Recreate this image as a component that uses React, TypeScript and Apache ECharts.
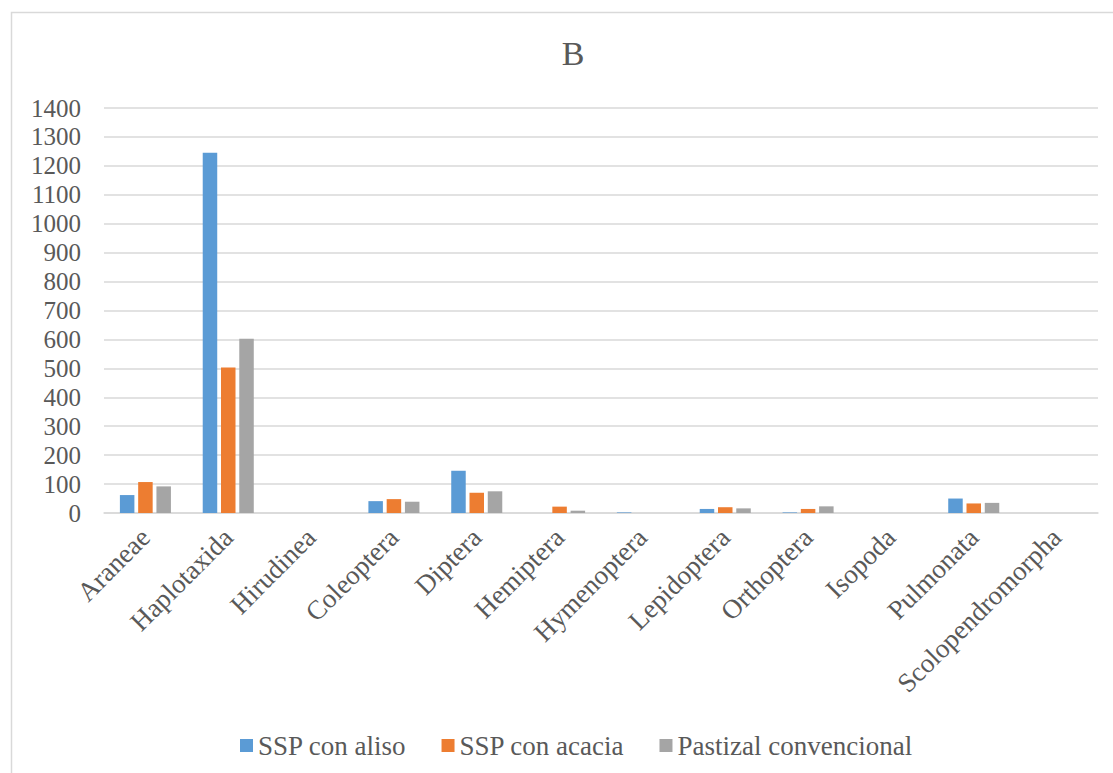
import React, { useEffect, useRef } from "react";
import * as echarts from "echarts";

const categories = [
  "Araneae",
  "Haplotaxida",
  "Hirudinea",
  "Coleoptera",
  "Diptera",
  "Hemiptera",
  "Hymenoptera",
  "Lepidoptera",
  "Orthoptera",
  "Isopoda",
  "Pulmonata",
  "Scolopendromorpha",
];

const seriesNames = ["SSP con aliso", "SSP con acacia", "Pastizal convencional"];
const sspAliso = [62, 1245, 0, 41, 146, 0, 2, 14, 2, 0, 50, 0];
const sspAcacia = [107, 503, 0, 48, 70, 22, 0, 20, 14, 0, 33, 0];
const pastizal = [92, 602, 0, 39, 75, 8, 0, 16, 23, 0, 35, 0];
const seriesColors = ["#5b9bd5", "#ed7d31", "#a5a5a5"];

const FONT = "Liberation Serif, serif";
const TEXT = "#595959";

export default function App() {
  const ref = useRef<HTMLDivElement>(null);

  useEffect(() => {
    if (!ref.current) return;
    const chart = echarts.init(ref.current, null, { renderer: "svg" });
    const values = [sspAliso, sspAcacia, pastizal];
    chart.setOption({
      animation: false,
      backgroundColor: "#ffffff",
      textStyle: { fontFamily: FONT },
      title: {
        text: "B",
        left: 568,
        top: 31,
        textAlign: "center",
        textStyle: { fontFamily: FONT, fontSize: 34, fontWeight: "normal", color: TEXT },
      },
      graphic: [
        {
          type: "rect",
          shape: { x: 11.5, y: 12.5, width: 1200, height: 800 },
          style: { fill: "none", stroke: "#d9d9d9", lineWidth: 1.5 },
          silent: true,
          z: -1,
        },
      ],
      legend: {
        left: 235,
        top: 727,
        itemWidth: 13,
        itemHeight: 13,
        itemGap: 35,
        icon: "rect",
        textStyle: { fontFamily: FONT, fontSize: 27, color: TEXT },
        data: seriesNames,
      },
      grid: { left: 104, right: 15, top: 108, bottom: 260, containLabel: false },
      xAxis: {
        type: "category",
        data: categories,
        axisLine: { lineStyle: { color: "#d9d9d9", width: 1.5 } },
        axisTick: { show: false },
        axisLabel: {
          interval: 0,
          rotate: 45,
          margin: 20,
          fontFamily: FONT,
          fontSize: 27,
          color: TEXT,
        },
      },
      yAxis: {
        type: "value",
        min: 0,
        max: 1400,
        interval: 100,
        axisLine: { show: false },
        axisTick: { show: false },
        splitLine: { lineStyle: { color: "#d9d9d9", width: 1.5 } },
        axisLabel: {
          margin: 23,
          fontFamily: FONT,
          fontSize: 25,
          color: TEXT,
          formatter: (v: number) => String(v),
        },
      },
      series: seriesNames.map((name, i) => ({
        name,
        type: "bar",
        data: values[i],
        barWidth: 14.5,
        barGap: "26%",
        itemStyle: { color: seriesColors[i] },
      })),
    });
    return () => chart.dispose();
  }, []);

  return (
    <div
      ref={ref}
      style={{ position: "fixed", left: 0, top: 0, width: 1113, height: 773 }}
    />
  );
}
